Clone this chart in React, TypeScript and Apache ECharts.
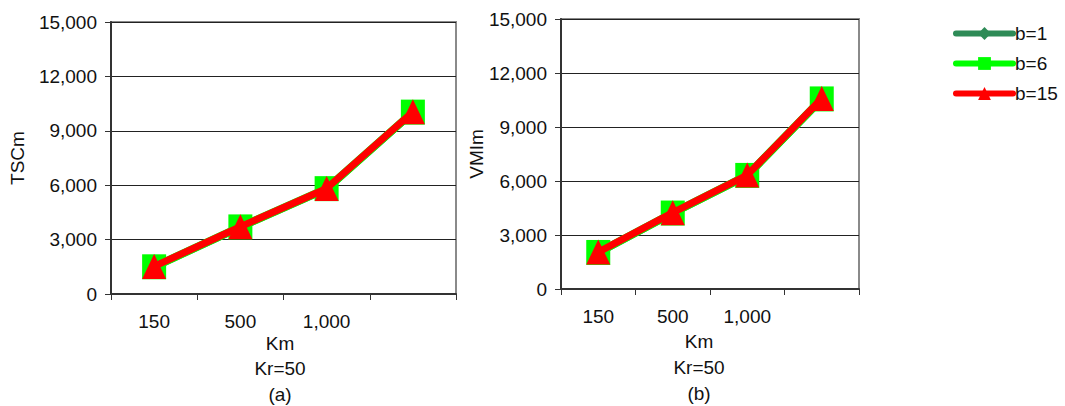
import React, { useEffect, useRef } from "react";
import * as echarts from "echarts";

const categories = ["150", "500", "1,000", ""];
const yTicks = [0, 3000, 6000, 9000, 12000, 15000];

// (a) TSCm
const tscB1 = [1480, 3680, 5790, 10000];
const tscB6 = [1500, 3700, 5810, 10030];
const tscB15 = [1520, 3710, 5820, 10050];

// (b) VMIm
const vmiB1 = [2000, 4200, 6290, 10530];
const vmiB6 = [2030, 4220, 6310, 10560];
const vmiB15 = [2050, 4240, 6330, 10580];

const seriesNames = ["b=1", "b=6", "b=15"];
const colors = ["#2E8B57", "#00FF00", "#FF0000"];
const FONT = "'Liberation Sans', Arial, sans-serif";

export default function App() {
  const ref = useRef<HTMLDivElement>(null);
  useEffect(() => {
    if (!ref.current) return;
    const chart = echarts.init(ref.current, null, { renderer: "svg" });
    const grids = [
      { left: 111, top: 22, width: 345, height: 272 },
      { left: 561, top: 19, width: 298, height: 270 },
    ];
    const mkX = (i: number) => ({
      type: "category",
      gridIndex: i,
      data: categories,
      boundaryGap: true,
      axisLine: { show: true, lineStyle: { color: "#333", width: 2 } },
      axisTick: { show: true, alignWithLabel: false, interval: 0, length: 6, lineStyle: { color: "#333", width: 1 } },
      axisLabel: { interval: 0, margin: 18, color: "#111", fontSize: 19, fontFamily: FONT },
      splitLine: { show: false },
    });
    const mkY = (i: number) => ({
      type: "value",
      gridIndex: i,
      min: yTicks[0],
      max: yTicks[yTicks.length - 1],
      interval: 3000,
      axisLine: { show: true, lineStyle: { color: "#333", width: 2 } },
      axisTick: { show: true, length: 6, lineStyle: { color: "#333", width: 1 } },
      axisLabel: {
        margin: 14,
        color: "#111",
        fontSize: 19,
        fontFamily: FONT,
        formatter: (v: number) => v.toLocaleString("en-US"),
      },
      splitLine: { show: true, lineStyle: { color: "#222", width: 1 } },
    });
    const dataSets = [
      [tscB1, tscB6, tscB15],
      [vmiB1, vmiB6, vmiB15],
    ];
    const symbols = ["diamond", "rect", "triangle"];
    const sizes: any[] = [[12, 14], [24, 25], [24, 25]];
    const widths = [7, 8, 7];
    const series: any[] = [];
    dataSets.forEach((ds, gi) => {
      ds.forEach((d, si) => {
        series.push({
          type: "line",
          name: seriesNames[si],
          xAxisIndex: gi,
          yAxisIndex: gi,
          data: d,
          symbol: symbols[si],
          symbolSize: sizes[si],
          showAllSymbol: true,
          color: colors[si],
          itemStyle: { color: colors[si] },
          lineStyle: { color: colors[si], width: widths[si], cap: "round", join: "round" },
          z: 2 + si,
        });
      });
    });
    const textStyle = (x: number, y: number, t: string, rot = 0) => ({
      type: "text",
      x,
      y,
      rotation: rot,
      style: {
        text: t,
        fill: "#111",
        font: `19px ${FONT}`,
        textAlign: "center",
        textVerticalAlign: "middle",
      },
    });
    chart.setOption({
      animation: false,
      textStyle: { fontFamily: FONT },
      grid: grids.map((g) => ({ ...g, show: true, borderColor: "#8a8a8a", borderWidth: 2, backgroundColor: "transparent" })),
      xAxis: [mkX(0), mkX(1)],
      yAxis: [mkY(0), mkY(1)],
      legend: {
        data: seriesNames,
        orient: "vertical",
        left: 953,
        top: 24,
        padding: 0,
        itemWidth: 57,
        itemHeight: 16,
        itemGap: 11,
        lineStyle: { width: 6, cap: "round" },
        textStyle: { fontSize: 19, color: "#111", fontFamily: FONT, padding: [5, 0, 0, -3] },
      },
      series,
      graphic: [
        textStyle(17, 158, "TSCm", Math.PI / 2),
        textStyle(280, 343, "Km"),
        textStyle(280, 368, "Kr=50"),
        textStyle(280, 394, "(a)"),
        textStyle(476, 154, "VMIm", Math.PI / 2),
        textStyle(699, 341, "Km"),
        textStyle(699, 367, "Kr=50"),
        textStyle(699, 393, "(b)"),
      ],
    });
    return () => chart.dispose();
  }, []);
  return (
    <div
      ref={ref}
      style={{ position: "fixed", left: 0, top: 0, width: 1065, height: 406, background: "#fff" }}
    />
  );
}
